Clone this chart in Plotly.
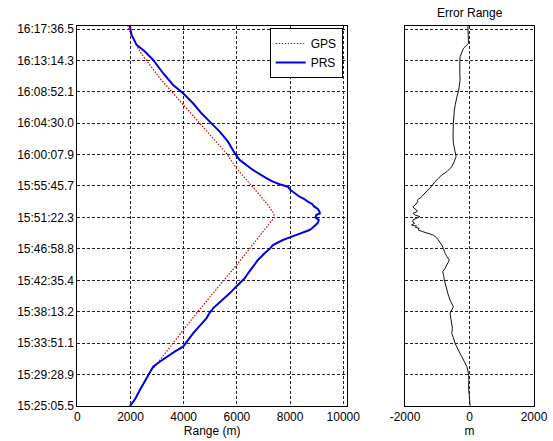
import plotly.graph_objects as go

# ---- tick labels ----
time_labels = ["15:25:05.5", "15:29:28.9", "15:33:51.1", "15:38:13.2", "15:42:35.4",
               "15:46:58.8", "15:51:22.3", "15:55:45.7", "16:00:07.9", "16:04:30.0",
               "16:08:52.1", "16:13:14.3", "16:17:36.5"]
range_ticks = [0, 2000, 4000, 6000, 8000, 10000]
err_ticks = [-2000, 0, 2000]

# ---- PRS (blue) : seconds since 15:25:05.5, range in m ----
prs_t = [0, 60, 134, 200, 259, 300, 329, 370, 412, 455, 496, 550, 608, 670, 733, 789, 800,
         817, 880, 942, 1000, 1054, 1068, 1110, 1165, 1221, 1277, 1300, 1320, 1346, 1370,
         1388, 1410, 1430, 1450, 1472, 1490, 1514, 1530, 1556, 1575, 1597, 1610, 1625,
         1645, 1667, 1690, 1709, 1730, 1750, 1770, 1785, 1792, 1805, 1834, 1855, 1876,
         1905, 1974, 2058, 2114, 2211, 2295, 2378, 2448, 2532, 2616, 2685, 2783, 2894,
         2964, 3020, 3103, 3178, 3230]
prs_range = [1980, 2180, 2352, 2520, 2664, 2780, 2852, 3100, 3354, 3660, 3977, 4160, 4352,
             4600, 4855, 5000, 5060, 5103, 5420, 5729, 5980, 6228, 6292, 6420, 6604, 6791,
             7043, 7180, 7260, 7354, 7560, 7729, 7990, 8232, 8500, 8731, 8850, 8982, 9040,
             9080, 8960, 8982, 9120, 9106, 9050, 8918, 8820, 8667, 8540, 8356, 8250, 8180,
             8104, 8020, 7917, 7605, 7354, 7106, 6604, 6104, 5917, 5666, 5354, 4979, 4668,
             4352, 3977, 3602, 3227, 2852, 2540, 2229, 2041, 1977, 1960]

# ---- GPS (red dotted) ----
gps_t = [0, 60, 134, 200, 259, 300, 326, 792, 1179, 1486, 1580, 1612, 1681, 1765, 1863,
         1988, 2114, 2239, 2365, 2490, 2616, 2741, 2852, 2964, 3076, 3159, 3230]
gps_range = [1980, 2180, 2352, 2520, 2664, 2780, 2900, 4540, 5990, 7085, 7420, 7380, 7166,
             6855, 6480, 5981, 5605, 5103, 4605, 4105, 3602, 3103, 2728, 2352, 2101, 1914,
             1880]

# ---- Error (GPS - PRS) ----
err_t = [0, 40, 78, 120, 162, 220, 273, 329, 370, 412, 470, 524, 570, 608, 650, 692, 735,
         775, 830, 860, 886, 930, 970, 1010, 1054, 1090, 1123, 1150, 1179, 1200, 1221,
         1250, 1277, 1319, 1347, 1389, 1410, 1430, 1445, 1458, 1472, 1485, 1495, 1505,
         1514, 1528, 1540, 1556, 1570, 1584, 1598, 1612, 1626, 1640, 1653, 1667, 1682,
         1696, 1710, 1722, 1737, 1750, 1765, 1779, 1792, 1805, 1821, 1848, 1876, 1905,
         1932, 1960, 2001, 2040, 2085, 2127, 2160, 2197, 2240, 2281, 2320, 2364, 2420,
         2475, 2520, 2559, 2600, 2628, 2680, 2726, 2780, 2838, 2880, 2921, 2960, 2991,
         3033, 3080, 3117, 3178]
err_val = [20, 10, 0, -20, -31, -20, -31, -81, -150, -238, -350, -447, -500, -550, -530,
           -550, -580, -603, -500, -560, -603, -660, -706, -740, -781, -800, -831, -760,
           -706, -680, -625, -700, -759, -813, -862, -969, -1030, -1125, -1331, -1450,
           -1594, -1560, -1680, -1640, -1800, -1700, -1760, -1750, -1640, -1541, -1700,
           -1750, -1620, -1644, -1720, -1750, -1680, -1644, -1600, -1620, -1541, -1480,
           -1440, -1384, -1330, -1290, -1228, -1150, -1072, -960, -862, -700, -550, -480,
           -416, -447, -480, -500, -510, -519, -505, -500, -490, -469, -440, -416, -380,
           -344, -310, -291, -300, -313, -300, -291, -240, -188, -31, -31, -31, -50]


def to_sec(lbl):
    h, m, s = lbl.split(":")
    return int(h) * 3600 + int(m) * 60 + float(s)


t0 = to_sec(time_labels[0])
tickvals = [to_sec(l) - t0 for l in time_labels]

FONT = "Liberation Sans, Arial, sans-serif"

fig = go.Figure()
fig.add_trace(go.Scatter(x=gps_range, y=gps_t, mode="lines", name="GPS",
                         line=dict(color="#d40000", width=1.2, dash="1.5px,1.5px"),
                         xaxis="x", yaxis="y"))
fig.add_trace(go.Scatter(x=prs_range, y=prs_t, mode="lines", name="PRS",
                         line=dict(color="#0000e0", width=2),
                         xaxis="x", yaxis="y"))
fig.add_trace(go.Scatter(x=err_val, y=err_t, mode="lines", name="Error",
                         line=dict(color="#111111", width=1), showlegend=False,
                         xaxis="x2", yaxis="y2"))

W, H = 553, 441
mt, mb = 26, 35
grid = dict(showgrid=True, gridcolor="#222222", gridwidth=1, griddash="3px,2px",
            showline=True, linecolor="black", linewidth=1, mirror=True,
            zeroline=False, ticks="", automargin=False,
            tickfont=dict(family=FONT, size=12, color="black"))

ymax = 3178
fig.update_layout(
    width=W, height=H,
    margin=dict(l=0, r=0, t=mt, b=mb),
    paper_bgcolor="white", plot_bgcolor="white",
    font=dict(family=FONT, size=12, color="black"),
    xaxis=dict(domain=[77.3 / W, 347 / W], range=[0, 10140], tickvals=range_ticks,
               ticktext=[str(v) for v in range_ticks],
               title=dict(text="Range (m)", standoff=3, font=dict(size=12)), **grid),
    yaxis=dict(domain=[0, 1], range=[0, ymax], tickvals=tickvals, ticktext=time_labels,
               **grid),
    xaxis2=dict(domain=[405 / W, 534 / W], range=[-2000, 2000], tickvals=err_ticks,
                ticktext=[str(v) for v in err_ticks],
                anchor="y2", title=dict(text="m", standoff=3, font=dict(size=12)), **grid),
    yaxis2=dict(domain=[0, 1], range=[0, ymax], tickvals=tickvals, showticklabels=False,
                anchor="x2", **grid),
    legend=dict(x=342.7 / W, xanchor="right", y=1 - (28 - mt) / (H - mt - mb), yanchor="top",
                bgcolor="white", bordercolor="black", borderwidth=1,
                font=dict(family=FONT, size=12), tracegroupgap=0),
    showlegend=True,
    annotations=[dict(text="Error Range", xref="paper", yref="paper",
                      x=(469.5) / W, y=1 + (26 - 12.7) / (H - mt - mb),
                      xanchor="center", yanchor="middle", showarrow=False,
                      font=dict(family=FONT, size=12, color="black"))],
)

fig.write_html("out.html", config={"displayModeBar": False},
               post_script="document.body.style.margin='0';document.body.style.overflow='hidden';")
